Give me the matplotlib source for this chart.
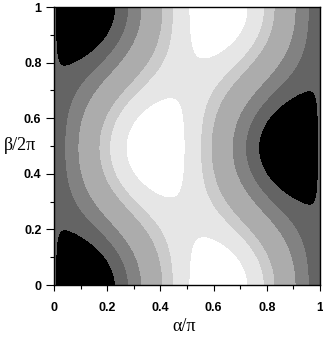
import numpy as np
import matplotlib
matplotlib.use("Agg")
import matplotlib.pyplot as plt

# Quadratic form on unit vector n(alpha, beta): f = A z^2 + B x^2 + C y^2 + D xz + E yz
coef_A = -0.737
coef_B = 0.737
coef_C = 0.719
coef_D = -1.352
coef_E = 0.06

levels = [-2.0, -0.76, -0.525, -0.237, 0.255, 0.487, 0.782, 2.0]
fill_colors = ['#000000', '#646464', '#828282', '#acacac', '#cbcbcb', '#e6e6e6', '#ffffff']

tick_vals = [0, 0.2, 0.4, 0.6, 0.8, 1]
tick_labels = ['0', '0.2', '0.4', '0.6', '0.8', '1']
minor_vals = [0.1, 0.3, 0.5, 0.7, 0.9]

an = np.linspace(0, 1, 501)
bn = np.linspace(0, 1, 501)
AN, BN = np.meshgrid(an, bn)
a = np.pi * AN
b = 2 * np.pi * BN
x = np.sin(a) * np.cos(b)
y = np.sin(a) * np.sin(b)
z = np.cos(a)
F = coef_A * z**2 + coef_B * x**2 + coef_C * y**2 + coef_D * x * z + coef_E * y * z

fig = plt.figure(figsize=(3.23, 3.37), dpi=100)
ax = fig.add_axes([54/323, 1-285/337, 266/323, 278/337])
ax.contourf(AN, BN, F, levels=levels, colors=fill_colors, antialiased=False)
ax.set_xlim(0, 1)
ax.set_ylim(0, 1)

tfont = dict(family=['Liberation Sans', 'DejaVu Sans'], weight='bold', size=9)
ax.set_xticks(tick_vals)
ax.set_xticklabels(tick_labels, fontdict=tfont)
ax.set_yticks(tick_vals)
ax.set_yticklabels(tick_labels, fontdict=tfont)
ax.set_xticks(minor_vals, minor=True)
ax.set_yticks(minor_vals, minor=True)
ax.tick_params(axis='x', which='major', direction='out', length=4, width=0.8, pad=8, colors='black')
ax.tick_params(axis='x', which='minor', direction='out', length=3, width=0.8, colors='black')
ax.tick_params(axis='y', which='major', direction='out', length=6, width=0.8, pad=3, colors='black')
ax.tick_params(axis='y', which='minor', direction='out', length=3, width=0.8, colors='black')
for s in ax.spines.values():
    s.set_linewidth(1.0)
    s.set_color('black')

lfont = dict(family=['Liberation Serif', 'DejaVu Serif'], size=13)
ax.set_xlabel('α/π', fontdict=lfont, va='center')
ax.set_ylabel('β/2π', fontdict=lfont, rotation=0, ha='center', va='center')
ax.xaxis.set_label_coords(0.49, -0.15)
ax.yaxis.set_label_coords(-0.128, 0.5)

fig.savefig('out.png', dpi=100)
